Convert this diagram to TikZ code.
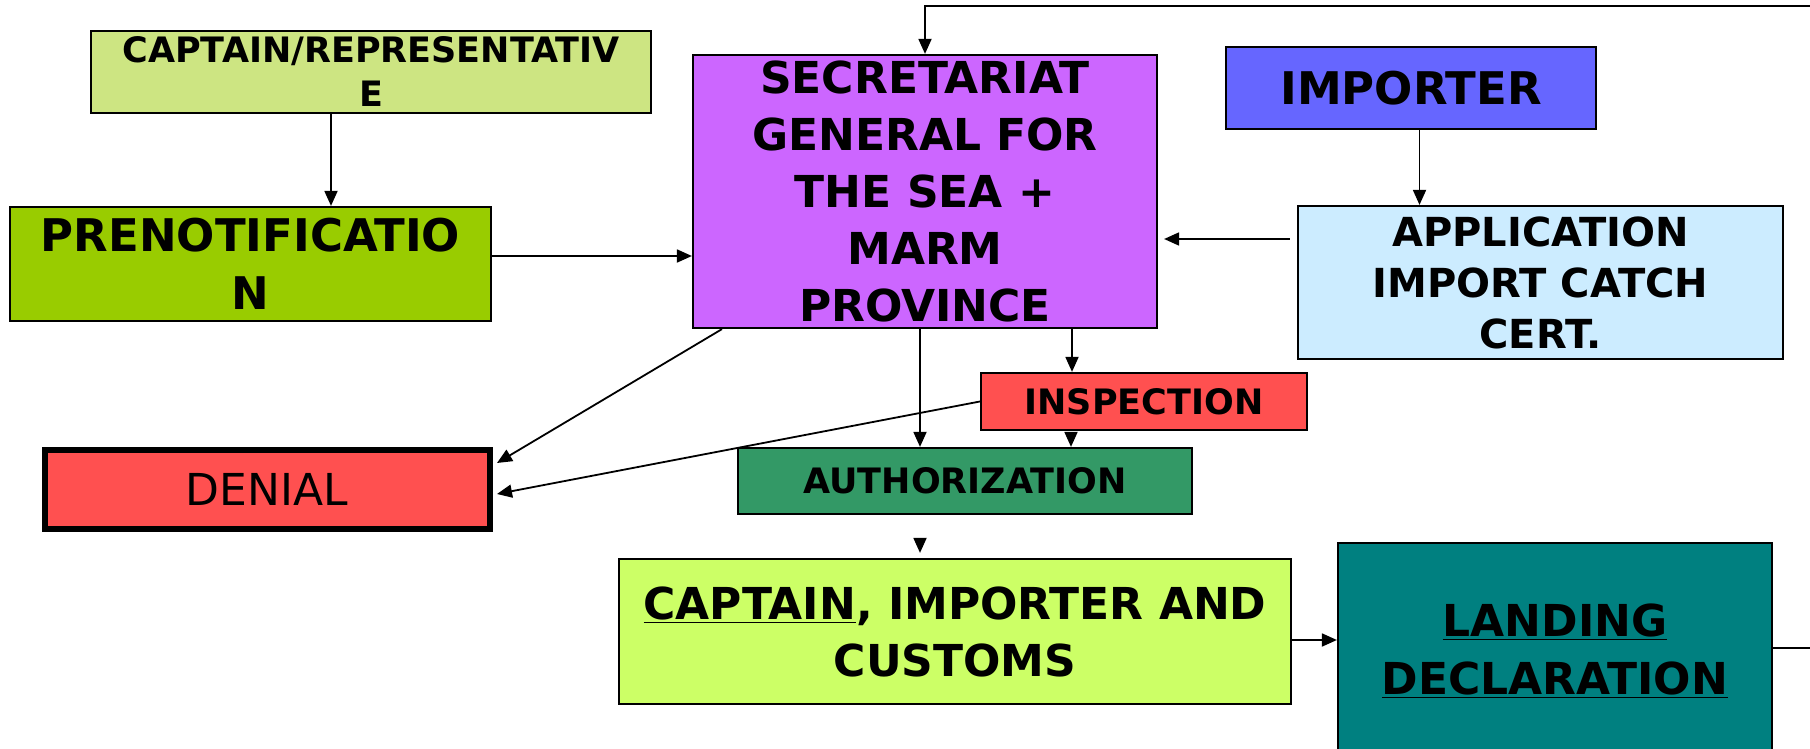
\documentclass[tikz,border=0pt]{standalone}
\usepackage{fontspec}
\setmainfont{DejaVu Sans}
\usetikzlibrary{arrows.meta}
\definecolor{cCapRep}{RGB}{205,229,130}
\definecolor{cPrenot}{RGB}{153,204,0}
\definecolor{cSecr}{RGB}{204,102,255}
\definecolor{cImp}{RGB}{102,102,255}
\definecolor{cAppl}{RGB}{204,236,255}
\definecolor{cRed}{RGB}{255,80,80}
\definecolor{cAuth}{RGB}{51,153,102}
\definecolor{cCic}{RGB}{204,255,102}
\definecolor{cLand}{RGB}{0,128,128}
\tikzset{
  box/.style={draw=black, line width=1.1pt, rectangle, inner sep=0pt, align=center},
  arr/.style={line width=0.9pt, -{Triangle[length=7.5pt,width=6.5pt]}},
}
\begin{document}
\begin{tikzpicture}[x=0.5pt,y=-0.5pt]
\useasboundingbox (0,0) rectangle (1810,749);
\node[box, fill=cCapRep, minimum width=280pt, minimum height=41pt,
  font=\fontsize{17.5pt}{22pt}\selectfont\bfseries] (caprep) at (371,72) {CAPTAIN/REPRESENTATIV\\E};
\node[box, fill=cPrenot, minimum width=240.5pt, minimum height=57pt,
  font=\fontsize{22.5pt}{29pt}\selectfont\bfseries] (prenot) at (250.5,264) {PRENOTIFICATIO\\N};
\node[box, fill=cSecr, minimum width=232pt, minimum height=136.5pt,
  font=\fontsize{22pt}{28.5pt}\selectfont\bfseries] (secr) at (925,191.5) {SECRETARIAT\\GENERAL FOR\\THE SEA +\\MARM\\PROVINCE};
\node[box, fill=cImp, minimum width=185pt, minimum height=41pt,
  font=\fontsize{22.5pt}{28pt}\selectfont\bfseries] (imp) at (1411,88) {IMPORTER};
\node[box, fill=cAppl, minimum width=242.5pt, minimum height=76.5pt,
  font=\fontsize{20pt}{25.5pt}\selectfont\bfseries] (appl) at (1540.5,282.5) {APPLICATION\\IMPORT CATCH\\CERT.};
\node[box, fill=cRed, minimum width=163pt, minimum height=28.5pt,
  font=\fontsize{17.5pt}{22pt}\selectfont\bfseries] (insp) at (1144,401.5) {INSPECTION};
\node[box, fill=cAuth, minimum width=227pt, minimum height=33pt,
  font=\fontsize{17.5pt}{22pt}\selectfont\bfseries] (auth) at (965,481) {AUTHORIZATION};
\node[box, fill=cRed, line width=3pt, minimum width=222.5pt, minimum height=39.5pt,
  font=\fontsize{22pt}{28pt}\selectfont] (denial) at (267,489.5) {DENIAL};
\node[box, fill=cCic, minimum width=336pt, minimum height=72.5pt,
  font=\fontsize{22pt}{28.5pt}\selectfont\bfseries] (cic) at (955,631.5) {\underline{CAPTAIN}, IMPORTER AND\\CUSTOMS};
\node[box, fill=cLand, minimum width=217pt, minimum height=108pt,
  font=\fontsize{22pt}{29pt}\selectfont\bfseries] (land) at (1555,651) {\underline{LANDING}\\\underline{DECLARATION}};
% connectors
\draw[arr] ([xshift=-20pt]caprep.south) -- ([xshift=-20pt]caprep.south |- prenot.north);
\draw[arr] ([yshift=4pt]prenot.east) -- ([yshift=4pt]prenot.east -| secr.west);
\draw[arr] ([yshift=1.5pt]land.east) -- ++(80,0) |- ([yshift=24pt]secr.north) -- (secr.north);
\draw[arr, shorten <=3.5pt, shorten >=3pt] ([yshift=21.75pt]appl.west) -- ([yshift=21.75pt]appl.west -| secr.east);
\draw[arr] ([xshift=4.25pt]imp.south) -- ([xshift=4.25pt]imp.south |- appl.north);
\draw[arr] ([xshift=73.5pt]secr.south) -- ([xshift=73.5pt]secr.south |- insp.north);
\draw[arr] ([xshift=-2.5pt]secr.south) -- ([xshift=-2.5pt]secr.south |- auth.north);
\draw[arr, shorten <=2pt] ([xshift=-36.5pt]insp.south) -- ([xshift=-36.5pt]insp.south |- auth.north);
\draw[arr] ([xshift=-101.5pt]secr.south) -- ([xshift=2.25pt,yshift=13.25pt]denial.east);
\draw[arr] (insp.west) -- ([xshift=2.25pt,yshift=-2.25pt]denial.east);
\draw[arr, shorten <=12.5pt, shorten >=2.5pt] ([xshift=-22.5pt]auth.south) -- ([xshift=-22.5pt]auth.south |- cic.north);
\draw[arr] ([yshift=-4.25pt]cic.east) -- ([yshift=-4.25pt]cic.east -| land.west);
\end{tikzpicture}
\end{document}
